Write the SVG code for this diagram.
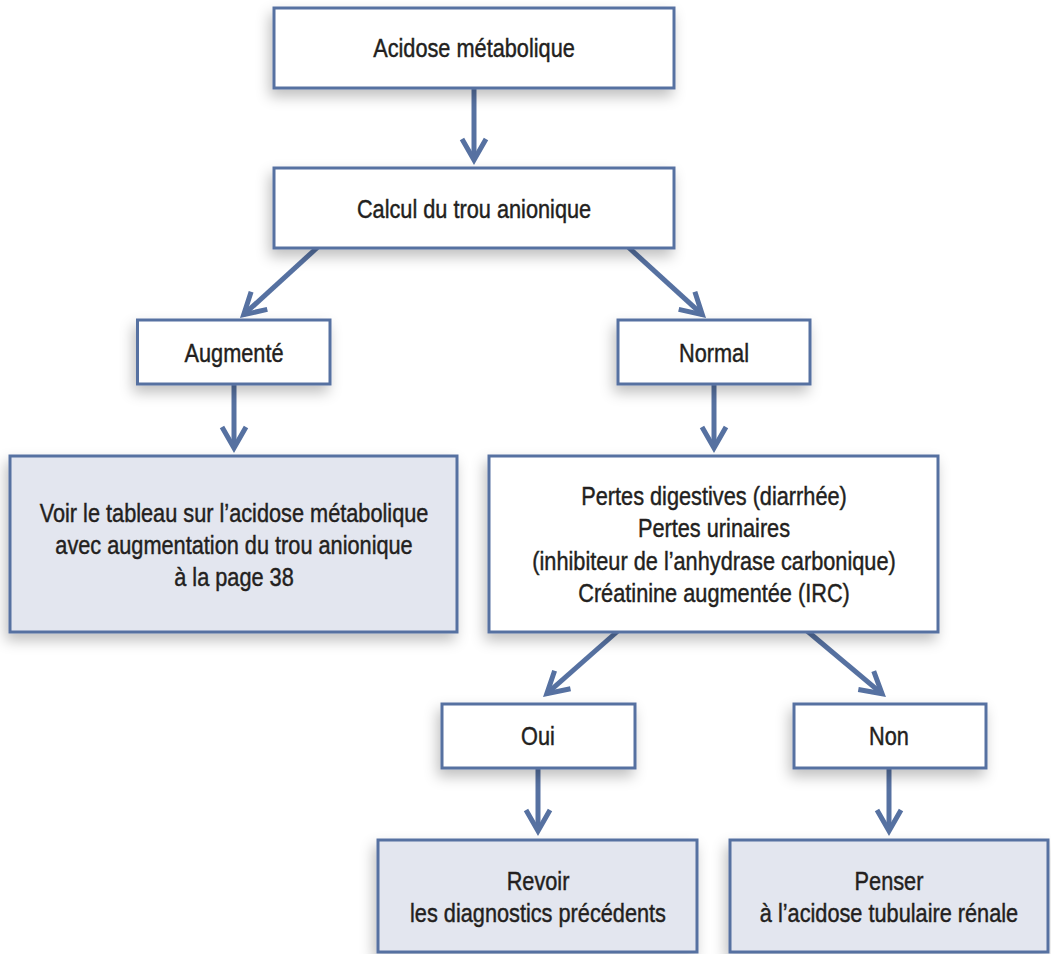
<svg xmlns="http://www.w3.org/2000/svg" width="1051" height="954" viewBox="0 0 1051 954">
<style>
.box{fill:#ffffff;stroke:#5671a1;stroke-width:3;filter:url(#sh)}
.alt{fill:#e3e6ef}
.t{font-family:"Liberation Sans",Arial,sans-serif;font-size:26.5px;fill:#231f20;stroke:#231f20;stroke-width:0.45;text-anchor:middle}
.c{fill:none;stroke:#5671a1;stroke-width:5;marker-end:url(#ah)}
</style>
<defs>
<filter id="sh" x="-20%" y="-30%" width="140%" height="170%">
<feGaussianBlur in="SourceAlpha" stdDeviation="7"/>
<feOffset dx="-3" dy="7" result="b"/>
<feFlood flood-color="#000" flood-opacity="0.25"/>
<feComposite in2="b" operator="in"/>
<feMerge><feMergeNode/><feMergeNode in="SourceGraphic"/></feMerge>
</filter>
<marker id="ah" markerUnits="userSpaceOnUse" markerWidth="40" markerHeight="40" viewBox="-30 -20 40 40" refX="0" refY="0" orient="auto" overflow="visible">
<path d="M-21,-12 L0,0 L-21,12" fill="none" stroke="#5671a1" stroke-width="5" stroke-linejoin="miter"/>
</marker>
</defs>
<rect width="1051" height="954" fill="#ffffff"/>
<g id="connectors">
<line class="c" x1="474" y1="88" x2="474" y2="160"/>
<line class="c" x1="319" y1="246" x2="243.7" y2="314.7"/>
<line class="c" x1="627" y1="246" x2="702.3" y2="314.7"/>
<line class="c" x1="234" y1="384" x2="234" y2="448"/>
<line class="c" x1="714" y1="384" x2="714" y2="448"/>
<line class="c" x1="619" y1="630" x2="546.8" y2="693.7"/>
<line class="c" x1="806" y1="630" x2="882.1" y2="693.8"/>
<line class="c" x1="538" y1="768" x2="538" y2="831"/>
<line class="c" x1="889" y1="768" x2="889" y2="831"/>
</g>
<g id="n1"><rect class="box" x="274" y="8" width="400" height="80"/><text class="t" transform="translate(474 57) scale(0.82 1)">Acidose métabolique</text></g>
<g id="n2"><rect class="box" x="274" y="168" width="400" height="80"/><text class="t" transform="translate(474 218) scale(0.82 1)">Calcul du trou anionique</text></g>
<g id="n3"><rect class="box" x="137.5" y="320" width="192.5" height="64"/><text class="t" transform="translate(234 362) scale(0.82 1)">Augmenté</text></g>
<g id="n4"><rect class="box" x="618" y="320" width="192" height="64"/><text class="t" transform="translate(714 362) scale(0.82 1)">Normal</text></g>
<g id="n5"><rect class="box alt" x="10" y="456" width="447" height="176"/>
<text class="t" transform="translate(234 522) scale(0.82 1)">Voir le tableau sur l’acidose métabolique</text>
<text class="t" transform="translate(234 554) scale(0.82 1)">avec augmentation du trou anionique</text>
<text class="t" transform="translate(234 586) scale(0.82 1)">à la page 38</text></g>
<g id="n6"><rect class="box" x="489" y="456" width="449" height="176"/>
<text class="t" transform="translate(714 505) scale(0.82 1)">Pertes digestives (diarrhée)</text>
<text class="t" transform="translate(714 537) scale(0.82 1)">Pertes urinaires</text>
<text class="t" transform="translate(714 570) scale(0.82 1)">(inhibiteur de l’anhydrase carbonique)</text>
<text class="t" transform="translate(714 602) scale(0.82 1)">Créatinine augmentée (IRC)</text></g>
<g id="n7"><rect class="box" x="442" y="704" width="193" height="64"/><text class="t" transform="translate(538 745) scale(0.82 1)">Oui</text></g>
<g id="n8"><rect class="box" x="794" y="704" width="192" height="64"/><text class="t" transform="translate(889 745) scale(0.82 1)">Non</text></g>
<g id="n9"><rect class="box alt" x="378" y="840" width="319" height="112"/>
<text class="t" transform="translate(538 890) scale(0.82 1)">Revoir</text>
<text class="t" transform="translate(538 922) scale(0.82 1)">les diagnostics précédents</text></g>
<g id="n10"><rect class="box alt" x="730" y="840" width="318" height="112"/>
<text class="t" transform="translate(889 890) scale(0.82 1)">Penser</text>
<text class="t" transform="translate(889 922) scale(0.82 1)">à l’acidose tubulaire rénale</text></g>
</svg>
